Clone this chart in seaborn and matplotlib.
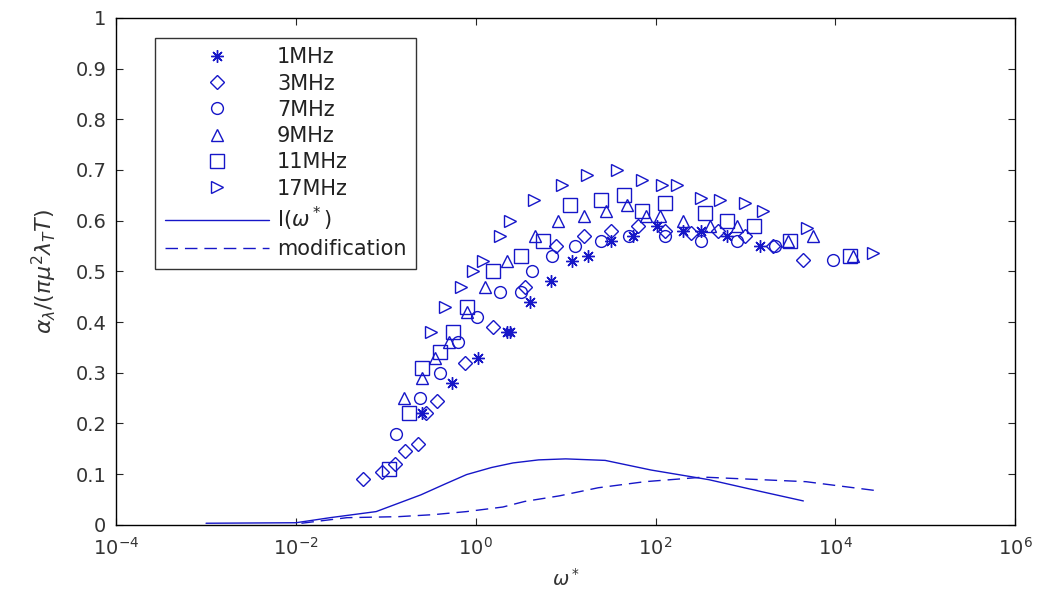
import numpy as np
import pandas as pd
import matplotlib
matplotlib.use('Agg')
from matplotlib import pyplot as plt
from matplotlib.ticker import NullLocator
import seaborn as sns

# values (x = omega*, y = normalised absorption)
f1_x = [0.25, 0.54, 1.07, 2.2, 2.4, 4.0, 6.8, 11.7, 17.8, 32, 56, 105, 200, 316, 630, 1450]
f1_y = [0.22, 0.28, 0.33, 0.38, 0.38, 0.44, 0.48, 0.52, 0.53, 0.56, 0.57, 0.59, 0.58, 0.58, 0.57, 0.55]

f3_x = [0.056, 0.091, 0.126, 0.162, 0.23, 0.28, 0.37, 0.76, 1.55, 3.5, 7.9, 15.8, 32, 63, 126, 250, 500, 1000, 2000, 4400]
f3_y = [0.09, 0.105, 0.12, 0.145, 0.16, 0.22, 0.245, 0.32, 0.39, 0.47, 0.55, 0.57, 0.58, 0.59, 0.58, 0.575, 0.58, 0.57, 0.55, 0.523]

f7_x = [0.13, 0.24, 0.40, 0.63, 1.02, 1.86, 3.2, 4.2, 7.1, 12.6, 25, 50, 126, 316, 800, 2140, 9500]
f7_y = [0.18, 0.25, 0.30, 0.36, 0.41, 0.46, 0.46, 0.50, 0.53, 0.55, 0.56, 0.57, 0.57, 0.56, 0.56, 0.55, 0.523]

f9_x = [0.16, 0.25, 0.35, 0.5, 0.79, 1.26, 2.2, 4.6, 8.3, 15.8, 28, 48, 79, 112, 200, 400, 800, 2950, 5600, 15800]
f9_y = [0.25, 0.29, 0.33, 0.36, 0.42, 0.47, 0.52, 0.57, 0.60, 0.61, 0.62, 0.63, 0.61, 0.61, 0.60, 0.59, 0.59, 0.56, 0.57, 0.53]

f11_x = [0.107, 0.18, 0.25, 0.40, 0.56, 0.79, 1.55, 3.2, 5.6, 11.2, 25, 44, 71, 126, 355, 620, 1230, 3160, 14500]
f11_y = [0.11, 0.22, 0.31, 0.34, 0.38, 0.43, 0.50, 0.53, 0.56, 0.63, 0.64, 0.65, 0.62, 0.635, 0.615, 0.60, 0.59, 0.56, 0.53]

f17_x = [0.32, 0.46, 0.68, 0.93, 1.2, 1.86, 2.4, 4.4, 9.1, 17.4, 37, 71, 117, 174, 316, 525, 1000, 1580, 4800, 26300]
f17_y = [0.38, 0.43, 0.47, 0.50, 0.52, 0.57, 0.60, 0.64, 0.67, 0.69, 0.70, 0.68, 0.67, 0.67, 0.645, 0.64, 0.635, 0.62, 0.585, 0.536]

i_x = [0.001, 0.01, 0.024, 0.078, 0.245, 0.45, 0.79, 1.5, 2.6, 5.0, 10, 27.5, 89, 390, 1450, 4400]
i_y = [0.003, 0.004, 0.014, 0.026, 0.059, 0.08, 0.099, 0.113, 0.122, 0.128, 0.13, 0.127, 0.108, 0.089, 0.066, 0.047]

mod_x = [0.0115, 0.037, 0.138, 0.34, 0.79, 2.0, 3.5, 8.5, 23, 76, 340, 1100, 4700, 29500]
mod_y = [0.003, 0.014, 0.016, 0.02, 0.026, 0.035, 0.046, 0.057, 0.073, 0.085, 0.094, 0.09, 0.085, 0.067]

labels = ['1MHz', '3MHz', '7MHz', '9MHz', '11MHz', '17MHz']
yticks = [0, 0.1, 0.2, 0.3, 0.4, 0.5, 0.6, 0.7, 0.8, 0.9, 1]
ytick_labels = ['0', '0.1', '0.2', '0.3', '0.4', '0.5', '0.6', '0.7', '0.8', '0.9', '1']
xticks = [1e-4, 1e-2, 1e0, 1e2, 1e4, 1e6]

sns.set_style("ticks")
plt.rcParams['font.family'] = ['DejaVu Sans']

blue = '#1616c8'
fig = plt.figure(figsize=(10.37, 5.97), dpi=100)
ax = fig.add_axes([0.112, 0.121, 0.867, 0.849])

series = [(labels[0], f1_x, f1_y, (8, 2, 0), 9),
          (labels[1], f3_x, f3_y, 'D', 7.5),
          (labels[2], f7_x, f7_y, 'o', 8.5),
          (labels[3], f9_x, f9_y, '^', 9),
          (labels[4], f11_x, f11_y, 's', 10),
          (labels[5], f17_x, f17_y, '>', 9)]

for lab, xs, ys, m, ms in series:
    df = pd.DataFrame({'w': xs, 'a': ys})
    sns.lineplot(data=df, x='w', y='a', ax=ax, estimator=None, sort=False,
                 linestyle='', marker=m, markersize=ms, markerfacecolor='none',
                 markeredgecolor=blue, markeredgewidth=1.0, color=blue, label=lab)

sns.lineplot(x=i_x, y=i_y, ax=ax, estimator=None, sort=False, color=blue,
             linewidth=1.0, label='I($\\omega^*$)')
sns.lineplot(x=mod_x, y=mod_y, ax=ax, estimator=None, sort=False, color=blue,
             linewidth=1.0, linestyle=(0, (9, 5)), label='modification')

ax.set_xscale('log')
ax.set_xlim(1e-4, 1e6)
ax.set_ylim(0, 1)
ax.set_xticks(xticks)
ax.xaxis.set_minor_locator(NullLocator())
ax.set_yticks(yticks, labels=ytick_labels)
ax.tick_params(direction='in', length=5, width=0.8, top=True, right=True,
               labelsize=14, labelcolor='#333333')
ax.tick_params(axis='x', pad=9)
ax.tick_params(axis='y', pad=7)
for s in ax.spines.values():
    s.set_linewidth(1.0)
    s.set_color('black')

ax.set_xlabel(r'$\omega^*$', fontsize=14, color='#333333', labelpad=6)
ax.set_ylabel(r'$\alpha_\lambda/(\pi\mu^2\lambda_T T)$', fontsize=16, color='#333333', labelpad=12)

h, l = ax.get_legend_handles_labels()
leg = ax.legend(h, l, loc='upper left', bbox_to_anchor=(0.0434, 0.9606), borderaxespad=0,
                fontsize=15, handlelength=5.0, handletextpad=0.4, labelspacing=0.3,
                borderpad=0.45, frameon=True, fancybox=False, edgecolor='black', numpoints=1)
leg.get_frame().set_linewidth(1.0)
for t in leg.get_texts():
    t.set_color('#222222')

fig.savefig('out.png', dpi=100)
